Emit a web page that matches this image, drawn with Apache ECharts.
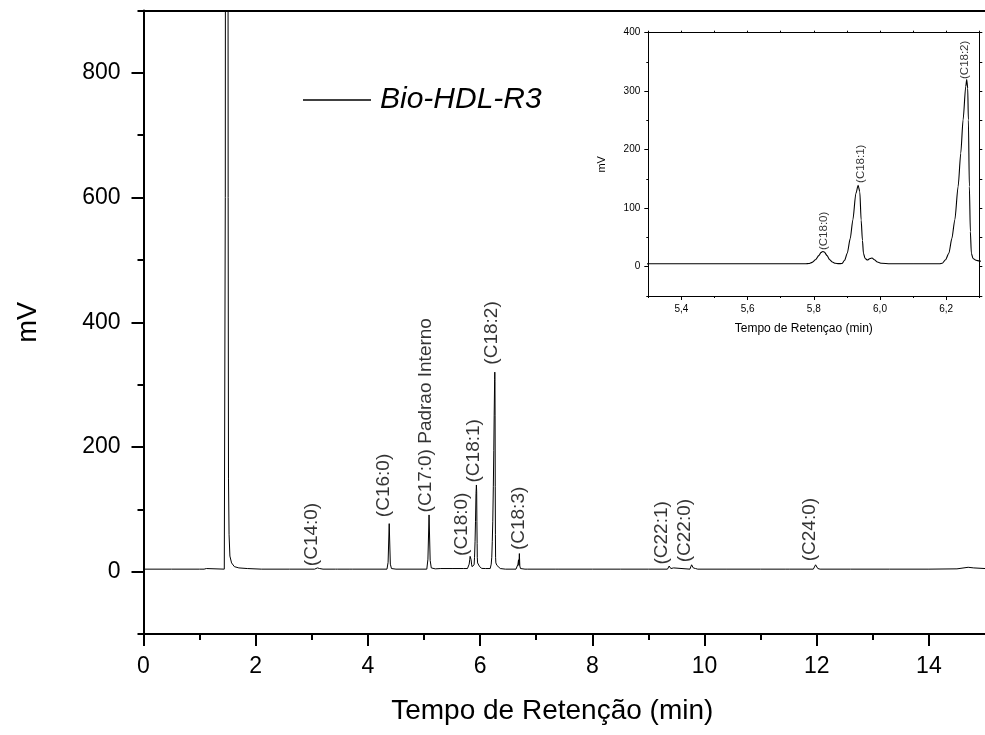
<!DOCTYPE html>
<html>
<head>
<meta charset="utf-8">
<script src="https://cdn.jsdelivr.net/npm/echarts@6/dist/echarts.min.js"></script>
<style>
  html, body { margin: 0; padding: 0; background: #ffffff; }
  #chart { width: 985px; height: 735px; }
</style>
</head>
<body>
<div id="chart"></div>
<script>
// Chromatogram of the Bio-HDL-R3 sample: retention time (min) vs detector signal (mV)
const seriesName = 'Bio-HDL-R3';

// Trace points [time, mV], split by retention-time region
const solventRegion = [
  [0.00, 4], [0.50, 4], [1.00, 4], [1.08, 4], [1.10, 5.5], [1.12, 5], [1.14, 4], [1.44, 4],
  [1.452, 4], [1.458, 600], [1.462, 1400], [1.485, 1600], [1.505, 1400], [1.509, 600],
  [1.515, 150], [1.525, 60], [1.54, 25], [1.57, 14], [1.62, 8], [1.70, 6], [1.85, 5], [2.10, 4]
];
const earlyRegion = [
  [2.60, 4], [3.05, 4], [3.10, 6], [3.12, 8], [3.14, 5], [3.20, 4], [3.42, 4], [3.44, 7], [3.46, 4],
  [3.68, 4], [3.70, 6], [3.72, 4], [4.34, 4], [4.36, 15], [4.38, 77], [4.40, 12], [4.42, 5], [4.50, 4],
  [5.05, 4], [5.07, 20], [5.09, 91], [5.11, 18], [5.13, 6], [5.20, 4.5]
];
const c18Region = [
  [5.30, 5], [5.50, 5], [5.70, 5], [5.775, 5], [5.785, 5.6], [5.795, 7.5], [5.805, 12], [5.815, 19],
  [5.822, 24.5], [5.827, 26], [5.832, 25], [5.840, 19], [5.848, 12], [5.856, 8], [5.865, 6],
  [5.875, 5.3], [5.885, 5.5], [5.893, 11], [5.901, 23], [5.910, 48], [5.918, 80], [5.927, 125],
  [5.934, 139], [5.939, 128], [5.943, 80], [5.947, 45], [5.950, 23], [5.955, 14], [5.962, 11.5],
  [5.970, 14], [5.976, 15], [5.983, 12], [5.992, 8], [6.005, 6], [6.030, 5.2], [6.10, 5], [6.18, 5],
  [6.188, 6], [6.198, 12], [6.208, 23], [6.217, 48], [6.226, 80], [6.236, 137], [6.244, 194],
  [6.251, 251], [6.259, 308], [6.262, 320], [6.265, 305], [6.267, 251], [6.270, 137], [6.273, 60],
  [6.276, 23], [6.281, 14], [6.29, 11], [6.30, 10], [6.32, 7], [6.36, 5]
];
const lateRegion = [
  [6.45, 4], [6.64, 4], [6.66, 7], [6.675, 12], [6.685, 19], [6.692, 10], [6.70, 29], [6.708, 9],
  [6.72, 5], [6.80, 4], [6.82, 6], [6.84, 4], [7.35, 4], [7.37, 6], [7.39, 4], [8.0, 4], [8.5, 4],
  [9.0, 4], [9.34, 4], [9.37, 9], [9.40, 5], [9.45, 6], [9.48, 4], [9.74, 4], [9.77, 11], [9.80, 6],
  [9.84, 5], [9.88, 4], [10.4, 4], [11.0, 4], [11.45, 4], [11.48, 7], [11.51, 4], [11.94, 4],
  [11.98, 11], [12.02, 5], [12.06, 4], [12.6, 4], [13.3, 4], [14.0, 4], [14.5, 4.5], [14.7, 7],
  [14.8, 6], [15.0, 5]
];

// Identified peaks
const peakNames = ['(C14:0)', '(C16:0)', '(C17:0) Padrao Interno', '(C18:0)', '(C18:1)', '(C18:2)',
                   '(C18:3)', '(C22:1)', '(C22:0)', '(C24:0)'];
const peakTimes = [3.12, 4.38, 5.09, 5.827, 5.934, 6.262, 6.70, 9.37, 9.77, 11.98];
const peakHeights = [8, 77, 91, 26, 139, 320, 29, 9, 11, 11];
const insetPeaks = [3, 4, 5];

// Tick values
const xMajorTicks = [0, 2, 4, 6, 8, 10, 12, 14];
const xMinorTicks = [1, 3, 5, 7, 9, 11, 13];
const yMajorTicks = [0, 200, 400, 600, 800];
const yMinorTicks = [-100, 100, 300, 500, 700, 900];
const insetXMajorTicks = [5.4, 5.6, 5.8, 6.0, 6.2];
const insetXMinorTicks = [5.3, 5.5, 5.7, 5.9, 6.1, 6.3];
const insetYMajorTicks = [0, 100, 200, 300, 400];
const insetYMinorTicks = [-50, 50, 150, 250, 350];

const trace = [].concat(solventRegion, earlyRegion, c18Region, lateRegion);

// Label nudges in px: [lift along the text, sideways shift]
const mainLabelNudge = [[0, -7], [6, -5], [2, -3], [-1, -9], [2, -3], [7, -3], [3, -1], [1, -7], [2, -7], [3, -6]];
const insetLabelNudge = [[1, 1], [2, 3], [0, -2]];

const FONT = "'Liberation Sans', Arial, Helvetica, sans-serif";
const INK = '#000000';

function peakLabelData(indices, nudges) {
  return indices.map((i, k) => ({
    value: [peakTimes[i], peakHeights[i]],
    label: { formatter: peakNames[i], offset: nudges[k] }
  }));
}

function plainAxis(extra) {
  return Object.assign({
    type: 'value',
    splitLine: { show: false },
    axisLine: { show: false, onZero: false },
    axisTick: { show: false },
    axisLabel: { show: false }
  }, extra);
}

const mainLine = { show: true, onZero: false, lineStyle: { color: INK, width: 2 } };
const insetLine = { show: true, onZero: false, lineStyle: { color: INK, width: 1 } };
const commaFmt = v => v.toFixed(1).replace('.', ',');

const chart = echarts.init(document.getElementById('chart'), null, { renderer: 'canvas' });

chart.setOption({
  animation: false,
  backgroundColor: '#ffffff',
  textStyle: { fontFamily: FONT },
  grid: [
    { left: 143.5, top: 10.5, right: -6.6, bottom: 101 },
    { left: 648.3, top: 32.7, right: 5.7, bottom: 439 }
  ],
  legend: {
    data: [seriesName],
    left: 303, top: 85, padding: 0,
    icon: 'rect',
    itemWidth: 68, itemHeight: 1.4,
    itemStyle: { color: INK },
    selectedMode: false,
    textStyle: { fontSize: 30, fontStyle: 'italic', color: INK, fontFamily: FONT, padding: [0, 0, 0, 4] }
  },
  xAxis: [
    plainAxis({
      gridIndex: 0, min: 0, max: 15, position: 'bottom',
      axisLine: mainLine,
      axisTick: { show: true, customValues: xMajorTicks, length: 12, lineStyle: { color: INK, width: 2 } },
      axisLabel: { show: true, customValues: xMajorTicks, margin: 21, fontSize: 23, color: INK, fontFamily: FONT },
      name: 'Tempo de Retenção (min)', nameLocation: 'middle', nameGap: 63,
      nameTextStyle: { fontSize: 28, color: INK, fontFamily: FONT, padding: [0, 24, 0, 0] }
    }),
    plainAxis({
      gridIndex: 0, min: 0, max: 15, position: 'bottom',
      axisTick: { show: true, customValues: xMinorTicks, length: 6, lineStyle: { color: INK, width: 2 } }
    }),
    plainAxis({ gridIndex: 0, min: 0, max: 15, position: 'top', axisLine: mainLine }),
    plainAxis({
      gridIndex: 1, min: 5.3, max: 6.3, position: 'bottom',
      axisLine: insetLine,
      axisTick: { show: true, customValues: insetXMajorTicks, length: 4, lineStyle: { color: INK, width: 1 } },
      axisLabel: { show: true, customValues: insetXMajorTicks, formatter: commaFmt, margin: 8, fontSize: 10, color: INK, fontFamily: FONT },
      name: 'Tempo de Retençao (min)', nameLocation: 'middle', nameGap: 27,
      nameTextStyle: { fontSize: 12, color: INK, fontFamily: FONT, padding: [0, 20, 0, 0] }
    }),
    plainAxis({
      gridIndex: 1, min: 5.3, max: 6.3, position: 'bottom',
      axisTick: { show: true, customValues: insetXMinorTicks, length: 2, lineStyle: { color: INK, width: 1 } }
    }),
    plainAxis({
      gridIndex: 1, min: 5.3, max: 6.3, position: 'top',
      axisLine: insetLine,
      axisTick: { show: true, customValues: insetXMajorTicks.concat(insetXMinorTicks), length: 2, lineStyle: { color: INK, width: 1 } }
    })
  ],
  yAxis: [
    plainAxis({
      gridIndex: 0, min: -100, max: 900, position: 'left',
      axisLine: mainLine,
      axisTick: { show: true, customValues: yMajorTicks, length: 12, lineStyle: { color: INK, width: 2 } },
      axisLabel: { show: true, customValues: yMajorTicks, margin: 23, fontSize: 23, color: INK, fontFamily: FONT },
      name: 'mV', nameLocation: 'middle', nameGap: 101,
      nameTextStyle: { fontSize: 27, color: INK, fontFamily: FONT }
    }),
    plainAxis({
      gridIndex: 0, min: -100, max: 900, position: 'left',
      axisTick: { show: true, customValues: yMinorTicks, length: 6, lineStyle: { color: INK, width: 2 } }
    }),
    plainAxis({
      gridIndex: 1, min: -50, max: 400, position: 'left',
      axisLine: insetLine,
      axisTick: { show: true, customValues: insetYMajorTicks, length: 4, lineStyle: { color: INK, width: 1 } },
      axisLabel: { show: true, customValues: insetYMajorTicks, margin: 8, fontSize: 10, color: INK, fontFamily: FONT },
      name: 'mV', nameLocation: 'middle', nameGap: 41,
      nameTextStyle: { fontSize: 11, color: INK, fontFamily: FONT }
    }),
    plainAxis({
      gridIndex: 1, min: -50, max: 400, position: 'left',
      axisTick: { show: true, customValues: insetYMinorTicks, length: 2, lineStyle: { color: INK, width: 1 } }
    }),
    plainAxis({
      gridIndex: 1, min: -50, max: 400, position: 'right',
      axisLine: insetLine,
      axisTick: { show: true, customValues: insetYMajorTicks.concat(insetYMinorTicks), length: 3, lineStyle: { color: INK, width: 1 } }
    })
  ],
  series: [
    {
      name: seriesName, type: 'line', xAxisIndex: 0, yAxisIndex: 0,
      data: trace, symbol: 'none', clip: true, silent: true,
      lineStyle: { color: INK, width: 1 }, itemStyle: { color: INK }
    },
    {
      name: seriesName, type: 'line', xAxisIndex: 3, yAxisIndex: 2,
      data: trace, symbol: 'none', clip: true, silent: true,
      smooth: 0.25, smoothMonotone: 'x',
      lineStyle: { color: INK, width: 1.1 }, itemStyle: { color: INK }
    },
    {
      name: 'peak labels', type: 'scatter', xAxisIndex: 0, yAxisIndex: 0,
      data: peakLabelData(peakNames.map((_, i) => i), mainLabelNudge),
      symbolSize: 1, itemStyle: { color: 'rgba(0,0,0,0)' }, silent: true, z: 5,
      label: {
        show: true, position: 'top', distance: 0, rotate: 90, align: 'left', verticalAlign: 'middle',
        fontSize: 19, color: INK, fontFamily: FONT
      }
    },
    {
      name: 'inset peak labels', type: 'scatter', xAxisIndex: 3, yAxisIndex: 2,
      data: peakLabelData(insetPeaks, insetLabelNudge),
      symbolSize: 1, itemStyle: { color: 'rgba(0,0,0,0)' }, silent: true, z: 5,
      label: {
        show: true, position: 'top', distance: 0, rotate: 90, align: 'left', verticalAlign: 'middle',
        fontSize: 11.5, color: INK, fontFamily: FONT
      }
    }
  ]
});
</script>
</body>
</html>
